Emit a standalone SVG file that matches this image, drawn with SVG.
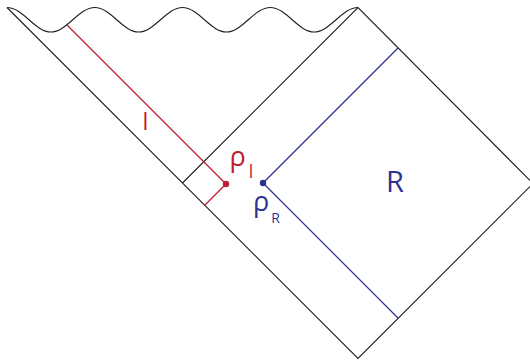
<svg xmlns="http://www.w3.org/2000/svg" width="530" height="360" viewBox="0 0 530 360">
<style>
.k{fill:none;stroke:#231f20;stroke-width:1.1}
.r{fill:none;stroke:#be1e2d;stroke-width:1.2}
.b{fill:none;stroke:#2e3192;stroke-width:1.2}
.tr{fill:#be1e2d;font-family:"Open Sans","Liberation Sans",sans-serif;font-weight:500}
.tb{fill:#2e3192;font-family:"Open Sans","Liberation Sans",sans-serif;font-weight:500}
</style>
<rect width="530" height="360" fill="#ffffff"/>
<g id="boundary">
<path class="k" d="M7,7.5 C22.94,7.5 34.94,32 50.88,32 S78.81,7.5 94.75,7.5 S122.69,32 138.63,32 S166.56,7.5 182.5,7.5 S210.44,32 226.38,32 S254.31,7.5 270.25,7.5 S298.19,32 314.13,32 S342.06,7.5 358,7.5"/>
<path class="k" d="M7,7.5 L358,358.5 L533,183.5 L358,7.5 L182.5,183"/>
</g>
<g id="connectors">
<path class="r" d="M67,25 L226,184"/>
<path class="r" d="M226,184 L204.5,205.5"/>
<path class="b" d="M263,183 L398,48"/>
<path class="b" d="M263,183 L398,318"/>
</g>
<g id="rho-l">
<circle cx="226" cy="184" r="3.2" fill="#be1e2d"/>
<text class="tr" x="237.5" y="166" font-size="27" text-anchor="middle">ρ</text>
<text class="tr" x="251" y="178" font-size="18" text-anchor="middle">l</text>
</g>
<g id="rho-r">
<circle cx="263" cy="183" r="3.2" fill="#2e3192"/>
<text class="tb" x="261" y="211" font-size="27" text-anchor="middle">ρ</text>
<text class="tb" x="275.5" y="223" font-size="14" text-anchor="middle">R</text>
</g>
<g id="label-l">
<text class="tr" x="145.5" y="130" font-size="23" text-anchor="middle">l</text>
</g>
<g id="label-r">
<text class="tb" x="395" y="192" font-size="29" text-anchor="middle">R</text>
</g>
</svg>
